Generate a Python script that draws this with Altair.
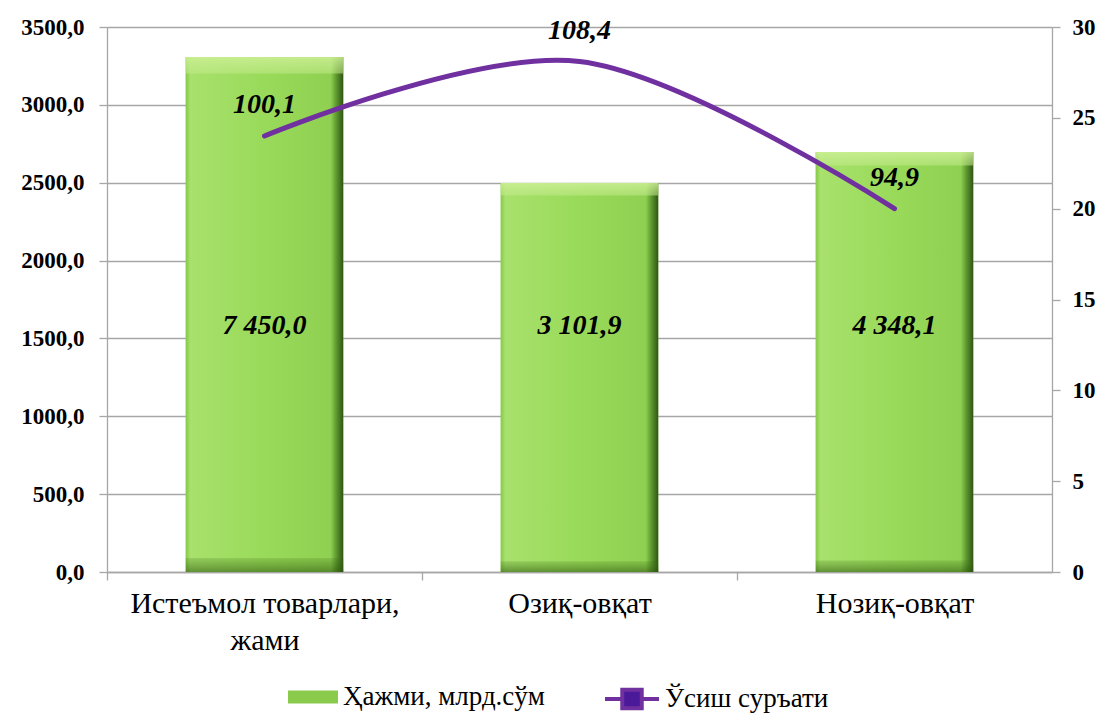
import altair as alt
import pandas as pd

categories = ["Истеъмол товарлари,\nжами", "Озиқ-овқат", "Нозиқ-овқат"]
volume = [3307, 2498, 2697]            # bar heights (left axis)
volume_labels = ["7 450,0", "3 101,9", "4 348,1"]
growth = [24.0, 28.1, 20.0]            # line values (right axis)
growth_labels = ["100,1", "108,4", "94,9"]
bar_series = "Ҳажми, млрд.сўм"
line_series = "Ўсиш суръати"

df = pd.DataFrame({
    "cat": categories,
    "vol": volume,
    "vol_label": volume_labels,
    "rate": growth,
    "rate_label": growth_labels,
    "bar_series": [bar_series] * 3,
    "line_series": [line_series] * 3,
})

FONT = "Times New Roman, Liberation Serif, DejaVu Serif, serif"
GRID = "#a6a6a6"
STEP = 315

xaxis = alt.Axis(title=None, grid=False, labelAngle=0, tickOffset=-STEP / 2, labelOffset=STEP / 2,
                 domainColor=GRID, tickColor=GRID, tickSize=8, domainWidth=1.3, tickWidth=1.3,
                 labelFont=FONT, labelFontSize=30, labelColor="black", labelPadding=8,
                 labelLimit=0, labelLineHeight=37, labelExpr="split(datum.label, '\\n')")
xenc = alt.X("cat:N", sort=categories,
             scale=alt.Scale(paddingInner=0.5, paddingOuter=0.25), axis=xaxis)

yleft_scale = alt.Scale(domain=[0, 3500], nice=False)
yleft_axis = alt.Axis(title=None, values=list(range(0, 3501, 500)), grid=True,
                      gridColor=GRID, gridWidth=1.3, domainColor=GRID, domainWidth=1.3,
                      tickColor=GRID, tickSize=8, tickWidth=1.3,
                      labelFont=FONT, labelFontSize=23, labelFontWeight="bold",
                      labelColor="black", labelPadding=15,
                      labelExpr="replace(format(datum.value, '.1f'), '.', ',')")

yright_scale = alt.Scale(domain=[0, 30], nice=False)
yright_axis = alt.Axis(title=None, orient="right", values=list(range(0, 31, 5)), grid=False,
                       domainColor=GRID, domainWidth=1.3, tickColor=GRID, tickSize=8,
                       tickWidth=1.3, labelFont=FONT, labelFontSize=23,
                       labelFontWeight="bold", labelColor="black", labelPadding=12,
                       format="d")

rect_path = "M-1,-0.26L1,-0.26L1,0.26L-1,0.26Z"
line_path = "M-1,0L-0.36,0M0.36,0L1,0M-0.36,-0.34L0.36,-0.34L0.36,0.34L-0.36,0.34Z"

base = alt.Chart(df)

bar_flat = base.mark_bar().encode(
    x=xenc, y=alt.Y("vol:Q", scale=yleft_scale, axis=yleft_axis),
    color=alt.Color("bar_series:N", scale=alt.Scale(range=["#8acb4c"]),
                    legend=alt.Legend(orient="none", legendX=181, legendY=645, title=None,
                                      symbolType=rect_path, symbolSize=2500, symbolStrokeWidth=0,
                                      labelFont=FONT, labelFontSize=27, labelColor="black",
                                      labelOffset=5, padding=0, labelLimit=0)),
)

bar_grad = base.mark_bar(
    color={"gradient": "linear", "x1": 0, "x2": 1, "y1": 0, "y2": 0,
           "stops": [{"offset": 0, "color": "#86c94a"},
                     {"offset": 0.03, "color": "#a8e16c"},
                     {"offset": 0.5, "color": "#99da5a"},
                     {"offset": 0.92, "color": "#8fd052"},
                     {"offset": 0.955, "color": "#5f9a30"},
                     {"offset": 1, "color": "#2f5514"}]}
).encode(x=xenc, y=alt.Y("vol:Q", scale=yleft_scale, axis=yleft_axis))

bar_bevel = base.mark_bar(
    color={"gradient": "linear", "x1": 0, "x2": 0, "y1": 0, "y2": 1,
           "stops": [{"offset": 0, "color": "rgba(205,240,150,0.85)"},
                     {"offset": 0.03, "color": "rgba(195,235,140,0.55)"},
                     {"offset": 0.034, "color": "rgba(195,235,140,0)"},
                     {"offset": 0.972, "color": "rgba(0,0,0,0)"},
                     {"offset": 0.974, "color": "rgba(60,110,20,0.2)"},
                     {"offset": 1, "color": "rgba(40,80,10,0.55)"}]}
).encode(x=xenc, y=alt.Y("vol:Q", scale=yleft_scale, axis=yleft_axis))

bar_text = base.mark_text(
    font=FONT, fontSize=28, fontWeight="bold", fontStyle="italic", color="black",
    baseline="middle", align="center"
).encode(x=xenc, y=alt.datum(1580, scale=yleft_scale, axis=yleft_axis), text="vol_label:N")

left = alt.layer(bar_flat, bar_grad, bar_bevel, bar_text)

line = base.mark_line(interpolate="cardinal", strokeWidth=5, strokeCap="round").encode(
    x=xenc,
    y=alt.Y("rate:Q", scale=yright_scale, axis=yright_axis),
    color=alt.Color("line_series:N", scale=alt.Scale(range=["#7030a0"]),
                    legend=alt.Legend(orient="none", legendX=496, legendY=643, title=None,
                                      symbolType=line_path, symbolSize=2916,
                                      symbolStrokeWidth=4, symbolFillColor="#4a1a9a",
                                      labelFont=FONT, labelFontSize=27, labelColor="black",
                                      labelOffset=4, padding=0, labelLimit=0)),
)

line_text = base.mark_text(
    font=FONT, fontSize=28, fontWeight="bold", fontStyle="italic", color="black",
    baseline="middle", align="center", dy=-31
).encode(x=xenc, y=alt.Y("rate:Q", scale=yright_scale, axis=yright_axis), text="rate_label:N")

right = alt.layer(line, line_text)

chart = alt.layer(left, right).resolve_scale(
    y="independent", color="independent"
).resolve_legend(color="independent").properties(
    width=945, height=545,
    autosize=alt.AutoSizeParams(type="none"),
    padding={"left": 99, "top": 19, "right": 45, "bottom": 143},
).configure_view(stroke=None)

chart.save("out.html", embed_options={"renderer": "svg", "actions": False})
